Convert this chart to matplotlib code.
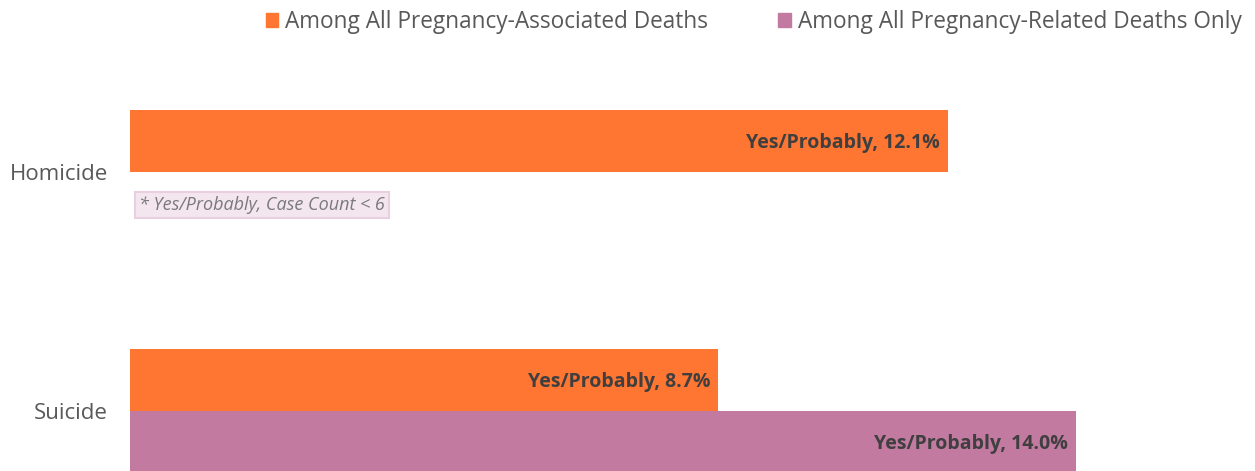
import matplotlib
matplotlib.use("Agg")
import matplotlib.pyplot as plt
from matplotlib.patches import Patch
import numpy as np

plt.rcParams['font.family'] = ['Open Sans', 'DejaVu Sans']

categories = ["Homicide", "Suicide"]
series_names = ["Among All Pregnancy-Associated Deaths",
                "Among All Pregnancy-Related Deaths Only"]
associated = [12.1, 8.7]
related = [np.nan, 14.0]          # Homicide suppressed (case count < 6)
label_prefix = "Yes/Probably"
note_text = "* Yes/Probably, Case Count < 6"

orange = "#FF7632"
purple = "#C27AA0"

W, H = 1255, 471
fig = plt.figure(figsize=(W / 100, H / 100), dpi=100)

# axes spans from the bar baseline to the right edge
left_px, top_px = 130, 60
ax = fig.add_axes([left_px / W, 0, 1 - left_px / W, 1 - top_px / H])

px_per_unit = 239.0
bar_h = 62 / px_per_unit
y = np.arange(len(categories))

ax.barh(y - bar_h / 2, associated, height=bar_h, color=orange, linewidth=0)
ax.barh(y + bar_h / 2, related, height=bar_h, color=purple, linewidth=0)

lbl_kw = dict(ha="right", va="center", fontsize=14, fontweight="bold",
              color="#3f3f3f")
dy = 0.01
for yi, v in zip(y, associated):
    ax.text(v - 0.12, yi - bar_h / 2 + dy, f"{label_prefix}, {v:.1f}%", **lbl_kw)
for yi, v in zip(y, related):
    if np.isnan(v):
        ax.text(0.13, yi + bar_h / 2 + 0.008, note_text, ha="left", va="center",
                fontsize=13, style="italic", color="#7a7a7a",
                bbox=dict(boxstyle="square,pad=0.22", fc="#F4E6EF",
                          ec="#E9CFE0", lw=1.5))
    else:
        ax.text(v - 0.12, yi + bar_h / 2 + dy, f"{label_prefix}, {v:.1f}%", **lbl_kw)

ax.set_xlim(0, (W - left_px) / 67.6)
ax.set_ylim(1 + (H - 411) / px_per_unit, -(172 - top_px) / px_per_unit)
ax.set_yticks(y)
ax.set_yticklabels(categories, fontsize=16, color="#595959")
ax.tick_params(axis="y", length=0, pad=16)
ax.set_xticks([])
for s in ax.spines.values():
    s.set_visible(False)

handles = [Patch(color=orange), Patch(color=purple)]
fig.legend(handles, series_names, loc="upper right", bbox_to_anchor=(1.0, 1.008),
           ncol=2, frameon=False, fontsize=16.3, labelcolor="#595959",
           handlelength=0.55, handleheight=0.55, handletextpad=0.3,
           columnspacing=3.1, borderaxespad=0.2)

fig.savefig("out.png", dpi=100)
